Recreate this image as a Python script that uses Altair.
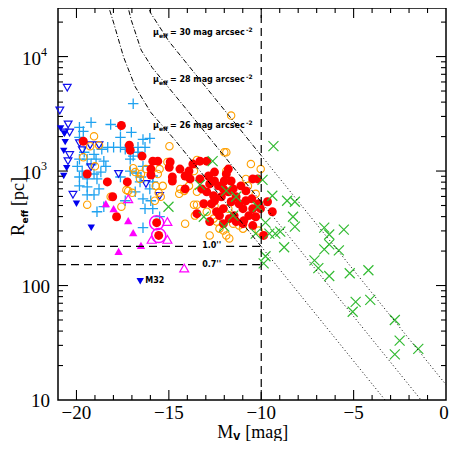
import altair as alt
import pandas as pd

# ---------------- data (M_V [mag], R_eff [pc]) ----------------
plus_M = [-16.93, -19.21, -19.84, -19.63, -17.62, -17.03, -19.84, -17.62, -16.40, -16.03,
          -18.63, -18.31, -17.99, -17.62, -17.36, -16.67, -16.67, -19.58, -19.05, -19.84,
          -19.42, -18.94, -18.52, -17.09, -16.93, -19.95, -19.21, -18.41, -19.69, -18.68,
          -19.05, -17.09, -16.77, -16.51, -19.84, -19.42, -18.89, -17.62, -16.56, -19.84,
          -19.42, -18.78, -16.40, -16.03, -19.42, -19.05, -16.82, -18.52, -18.89, -16.29,
          -15.87, -16.40, -15.50, -15.98, -17.36, -16.29, -15.87, -16.40, -15.87, -18.15]
plus_R = [3880, 2660, 2410, 2220, 2460, 2180, 1970, 1970, 1890, 1930,
          1550, 1610, 1610, 1610, 1550, 1610, 1460, 1460, 1400, 1270,
          1270, 1270, 1220, 1270, 1350, 1100, 1130, 1100, 1000, 980,
          942, 1000, 961, 887, 887, 853, 853, 887, 803, 742,
          727, 698, 1100, 698, 620, 620, 658, 488, 441, 469,
          803, 320, 399, 550, 550, 1610, 905, 572, 469, 2550]

blue_open_M = [-20.50, -20.90, -20.45, -20.66, -20.37, -19.84, -19.26, -18.78, -19.68, -20.37,
               -20.46, -19.22, -17.72, -16.24, -15.50, -20.19]
blue_open_R = [5350, 3380, 2550, 2170, 2170, 1750, 1680, 1680, 1520, 1380,
               1220, 1080, 942, 772, 607, 620]

blue_fill_M = [-20.86, -20.64, -20.61, -20.69, -20.53, -20.69, -20.00, -19.20, -16.55]
blue_fill_R = [2360, 2130, 1790, 1500, 1060, 905, 518, 320, 109]

orange_M = [-19.05, -19.26, -18.78, -19.63, -19.00, -16.93, -16.82, -16.51, -16.24, -16.56,
            -17.20, -16.98, -15.71, -15.55, -15.33, -15.44, -15.76, -18.15, -19.42, -17.57,
            -14.12, -13.64, -13.48, -12.26, -11.63, -14.97, -13.48, -11.89, -13.64, -15.50,
            -15.60, -14.12, -14.38, -14.17, -14.44, -13.48, -12.53, -12.95, -12.42, -10.30,
            -10.72, -11.89, -10.56, -10.03, -13.91, -12.79, -12.05, -11.89, -10.99, -10.14,
            -15.08, -12.00, -10.83, -17.30, -13.59, -12.58, -11.20, -11.73, -11.78, -11.52]
orange_R = [2010, 1650, 1680, 1320, 1100, 1060, 980, 942, 1040, 853,
            671, 645, 742, 645, 742, 596, 550, 596, 508, 488,
            347, 508, 508, 314, 3050, 1650, 1250, 1460, 1000, 1040,
            942, 905, 698, 671, 632, 658, 498, 441, 362, 632,
            742, 1000, 1150, 1040, 742, 274, 302, 274, 314, 302,
            1200, 1460, 853, 684, 408, 384, 334, 258, 469, 347]

red_M = [-17.57, -19.63, -17.14, -17.09, -16.45, -15.87, -15.60, -15.97, -15.97, -19.42,
         -18.33, -17.25, -18.04, -17.83, -15.66, -15.55,
         -14.93, -14.98, -14.40, -13.91, -14.81, -14.81, -13.85, -13.32, -12.85, -12.79,
         -12.53, -12.31, -11.89, -12.00, -11.63, -12.05, -11.78, -11.52, -11.10, -10.83,
         -10.46, -10.19, -12.95, -12.58, -12.53, -12.16, -11.63, -11.36, -11.20, -10.83,
         -10.99, -10.46, -10.67, -10.30, -10.04, -12.05, -12.26, -11.73, -11.36, -10.99,
         -13.22, -14.12, -13.11, -12.69, -13.48, -12.42, -11.47, -10.94, -9.87, -9.40,
         -9.66, -13.32, -12.53, -11.78, -12.95, -14.12, -12.79, -12.05, -10.51, -10.14,
         -10.46, -13.70]
red_R = [2500, 1820, 1680, 1520, 1350, 1220, 1220, 1040, 923, 942,
         803, 803, 596, 399, 354, 274,
         1200, 1080, 1040, 1000, 887, 819, 853, 853, 905, 772,
         819, 742, 942, 819, 819, 698, 658, 698, 742, 671,
         853, 853, 658, 608, 550, 596, 539, 596, 518, 550,
         469, 469, 408, 399, 469, 469, 408, 384, 362, 347,
         698, 698, 518, 518, 424, 441, 408, 369, 274, 441,
         539, 1220, 980, 1040, 1220, 905, 362, 347, 572, 518,
         334, 1150]

green_M = [-12.63, -13.32, -15.02, -13.11, -11.89, -11.36, -11.52, -12.00, -10.19, -9.93,
           -9.34, -10.30, -9.40, -8.60, -8.18, -8.28, -8.18, -9.77, -9.56, -9.24,
           -8.97, -8.76, -9.77, -9.87, -6.59, -6.32, -5.53, -6.32, -6.59, -5.80,
           -7.12, -6.91, -6.32, -5.21, -4.20, -4.89, -5.05, -4.10, -2.77, -2.51,
           -2.77, -1.50]
green_R = [1220, 757, 488, 399, 671, 596, 408, 327, 488, 836,
           1650, 284, 608, 550, 539, 399, 327, 354, 284, 284,
           296, 216, 180, 156, 320, 279, 308, 229, 207, 203,
           166, 142, 121, 128, 136, 72, 59, 75, 50, 33,
           25, 28]

mag_fill_M = [-18.41, -17.99, -17.20, -16.93, -16.51, -17.72]
mag_fill_R = [518, 469, 369, 290, 224, 199]
mag_open_M = [-17.20, -15.08, -15.08, -15.93, -14.17]
mag_open_R = [572, 362, 253, 253, 142]
ring_M = [-15.66, -15.55]
ring_R = [354, 274]

# surface-brightness curves
dd_curve = ["26"] * 7 + ["28"] * 6 + ["30"] * 4
dd_M = [-18.36, -17.98, -17.45, -16.82, -15.97, -14.70, -10.0,
        -17.30, -17.03, -16.50, -15.90, -14.00, -10.0,
        -16.24, -15.97, -15.00, -10.0]
dd_R = [30800, 19500, 9900, 5440, 3240, 1890, 219,
        30800, 20700, 11400, 8000, 3390, 537,
        30800, 23800, 13600, 1365]
dot_curve = ["26", "26", "28", "28", "30", "30"]
dot_M = [-10.0, -3.30, -10.0, -1.35, -10.0, 0.0]
dot_R = [219, 10, 537, 10, 1365, 13.6]

lab_M = [-15.86, -15.86, -15.86]
lab_R = [15920, 6270, 2470]
lab_txt = ["= 30 mag arcsec", "= 28 mag arcsec", "= 26 mag arcsec"]

seeing_seg = ["a", "a", "b", "b", "c", "c", "d", "d"]
seeing_M = [-21, -13.45, -11.9, -10, -21, -13.45, -11.9, -10]
seeing_R = [220, 220, 220, 220, 152, 152, 152, 152]
seeing_lab_M = [-12.68, -12.68]
seeing_lab_R = [220, 152]
seeing_lab = ["1.0''", "0.7''"]

xt_major = [-20, -15, -10, -5]
xt_minor = [-19, -18, -17, -16, -14, -13, -12, -11, -9, -8, -7, -6, -4, -3, -2, -1]
yt_major = [100, 1000, 10000]
yt_minor = [20, 30, 40, 50, 60, 70, 80, 90, 200, 300, 400, 500, 600, 700, 800, 900,
            2000, 3000, 4000, 5000, 6000, 7000, 8000, 9000, 20000]
xlab_vals = [-20, -15, -10, -5]
xlab_txt = ["\u221220", "\u221215", "\u221210", "\u22125"]

# ---------------- chart ----------------
W, H = 388, 392
xs = alt.Scale(domain=[-21, 0], nice=False, zero=False)
ys = alt.Scale(type="log", domain=[10, 26560], nice=False)
X = alt.X("M:Q", scale=xs, axis=None)
Y = alt.Y("R:Q", scale=ys, axis=None)
SERIF = "Liberation Serif"
SANS = "DejaVu Sans"


def df(M, R, **extra):
    d = pd.DataFrame({"M": M, "R": R})
    for k, v in extra.items():
        d[k] = v
    return d


PLUS = "M-1,0L1,0M0,-1L0,1"
CROSS = "M-1,-1L1,1M-1,1L1,-1"

layers = []
layers.append(alt.Chart(df(plus_M, plus_R)).mark_point(
    shape=PLUS, filled=False, size=110, strokeWidth=1.3, color="#1fa2f0", opacity=1).encode(x=X, y=Y))
layers.append(alt.Chart(df(blue_open_M, blue_open_R)).mark_point(
    shape="triangle-down", filled=False, size=60, strokeWidth=1.2, color="#1010ee", opacity=1).encode(x=X, y=Y))
layers.append(alt.Chart(df(blue_fill_M, blue_fill_R)).mark_point(
    shape="triangle-down", filled=True, size=55, color="#0000ee", opacity=1).encode(x=X, y=Y))
layers.append(alt.Chart(df(orange_M, orange_R)).mark_point(
    shape="circle", filled=False, size=55, strokeWidth=1.1, color="#ffa000", opacity=1).encode(x=X, y=Y))
layers.append(alt.Chart(df(red_M, red_R)).mark_point(
    shape="circle", filled=True, size=80, color="#ff0000", opacity=1).encode(x=X, y=Y))
layers.append(alt.Chart(df(ring_M, ring_R)).mark_point(
    shape="circle", filled=False, size=200, strokeWidth=1.4, color="#ff00ff", opacity=1).encode(x=X, y=Y))
layers.append(alt.Chart(df(mag_fill_M, mag_fill_R)).mark_point(
    shape="triangle-up", filled=True, size=70, color="#ff00ff", opacity=1).encode(x=X, y=Y))
layers.append(alt.Chart(df(mag_open_M, mag_open_R)).mark_point(
    shape="triangle-up", filled=False, size=80, strokeWidth=1.2, color="#ff00ff", opacity=1).encode(x=X, y=Y))
layers.append(alt.Chart(df(green_M, green_R)).mark_point(
    shape=CROSS, filled=False, size=100, strokeWidth=1.2, color="#33bb33", opacity=1).encode(x=X, y=Y))

# curves
layers.append(alt.Chart(df(dd_M, dd_R, c=dd_curve)).mark_line(
    clip=True, color="black", strokeWidth=1, strokeDash=[5, 2, 1, 2]).encode(x=X, y=Y, detail="c:N"))
layers.append(alt.Chart(df(dot_M, dot_R, c=dot_curve)).mark_line(
    clip=True, color="black", strokeWidth=1, strokeDash=[1, 2.5]).encode(x=X, y=Y, detail="c:N"))
# seeing lines + vertical line
layers.append(alt.Chart(df(seeing_M, seeing_R, s=seeing_seg)).mark_line(
    color="black", strokeWidth=1.2, strokeDash=[8, 5]).encode(x=X, y=Y, detail="s:N"))
layers.append(alt.Chart(pd.DataFrame({"M": [-10]})).mark_rule(
    color="black", strokeWidth=1.2, strokeDash=[8, 5]).encode(x=X, y=alt.value(H), y2=alt.value(0)))
layers.append(alt.Chart(df(seeing_lab_M, seeing_lab_R, t=seeing_lab)).mark_text(
    font=SANS, fontWeight="bold", fontSize=8, align="center", baseline="middle").encode(x=X, y=Y, text="t:N"))
layers.append(alt.Chart(df([-16.28], [109], t=["M32"])).mark_text(
    font=SANS, fontWeight="bold", fontSize=8, align="left", baseline="middle").encode(x=X, y=Y, text="t:N"))

# curve labels
lab = df(lab_M, lab_R, t=lab_txt)
layers.append(alt.Chart(lab).mark_text(font=SANS, fontWeight="bold", fontSize=8, align="left",
                                       baseline="middle", dx=0).encode(x=X, y=Y, text=alt.value("\u03bc")))
layers.append(alt.Chart(lab).mark_text(font=SANS, fontWeight="bold", fontSize=6, align="left",
                                       baseline="middle", dx=6, dy=3).encode(x=X, y=Y, text=alt.value("eff")))
layers.append(alt.Chart(lab).mark_text(font=SANS, fontWeight="bold", fontSize=8, align="left",
                                       baseline="middle", dx=17).encode(x=X, y=Y, text="t:N"))
layers.append(alt.Chart(lab).mark_text(font=SANS, fontWeight="bold", fontSize=6, align="left",
                                       baseline="middle", dx=93, dy=-3).encode(x=X, y=Y, text=alt.value("-2")))

# ticks (inside, mirrored)
TK = dict(color="black", strokeWidth=1.1)
dxM = pd.DataFrame({"M": xt_major})
dxm = pd.DataFrame({"M": xt_minor})
dyM = pd.DataFrame({"R": yt_major})
dym = pd.DataFrame({"R": yt_minor})
for d, L in ((dxM, 10), (dxm, 5)):
    layers.append(alt.Chart(d).mark_rule(**TK).encode(x=X, y=alt.value(H), y2=alt.value(H - L)))
    layers.append(alt.Chart(d).mark_rule(**TK).encode(x=X, y=alt.value(0), y2=alt.value(L)))
for d, L in ((dyM, 10), (dym, 5)):
    layers.append(alt.Chart(d).mark_rule(**TK).encode(y=Y, x=alt.value(0), x2=alt.value(L)))
    layers.append(alt.Chart(d).mark_rule(**TK).encode(y=Y, x=alt.value(W), x2=alt.value(W - L)))

# tick labels
layers.append(alt.Chart(df(xlab_vals, [10] * 4, t=xlab_txt)).mark_text(
    font=SERIF, fontSize=19, align="center", baseline="alphabetic", dy=19).encode(x=X, y=Y, text="t:N"))
layers.append(alt.Chart(df([0], [10], t=["0"])).mark_text(
    font=SERIF, fontSize=19, align="center", baseline="alphabetic", dx=-2, dy=19).encode(x=X, y=Y, text="t:N"))
layers.append(alt.Chart(df([-21, -21], [10, 100], t=["10", "100"])).mark_text(
    font=SERIF, fontSize=19, align="right", baseline="middle", dx=-8, dy=1).encode(x=X, y=Y, text="t:N"))
layers.append(alt.Chart(df([-21, -21], [1000, 10000], t=["10", "10"])).mark_text(
    font=SERIF, fontSize=19, align="right", baseline="middle", dx=-17, dy=2).encode(x=X, y=Y, text="t:N"))
layers.append(alt.Chart(df([-21, -21], [1000, 10000], t=["3", "4"])).mark_text(
    font=SERIF, fontSize=12, align="left", baseline="middle", dx=-17, dy=-5).encode(x=X, y=Y, text="t:N"))

# axis titles
xt = df([-12.38], [10])
layers.append(alt.Chart(xt).mark_text(font=SERIF, fontSize=18, align="left", baseline="alphabetic",
                                      dy=38).encode(x=X, y=Y, text=alt.value("M")))
layers.append(alt.Chart(xt).mark_text(font=SANS, fontWeight="bold", fontSize=9, align="left",
                                      baseline="alphabetic", dx=16, dy=40).encode(x=X, y=Y, text=alt.value("V")))
layers.append(alt.Chart(xt).mark_text(font=SERIF, fontSize=18, align="left", baseline="alphabetic",
                                      dx=28, dy=38).encode(x=X, y=Y, text=alt.value("[mag]")))
yt = df([-21], [271])
layers.append(alt.Chart(yt).mark_text(font=SERIF, fontSize=18, angle=270, align="left",
                                      baseline="alphabetic", dy=-34).encode(x=X, y=Y, text=alt.value("R")))
layers.append(alt.Chart(yt).mark_text(font=SANS, fontWeight="bold", fontSize=9, angle=270, align="left",
                                      baseline="alphabetic", dx=12.5, dy=-30).encode(x=X, y=Y, text=alt.value("eff")))
layers.append(alt.Chart(yt).mark_text(font=SERIF, fontSize=18, angle=270, align="left",
                                      baseline="alphabetic", dx=30, dy=-34).encode(x=X, y=Y, text=alt.value("[pc]")))

chart = alt.layer(*layers).properties(
    width=W, height=H,
    padding={"left": 50, "top": 0, "right": 3, "bottom": 41},
    autosize=alt.AutoSizeParams(type="none"),
    background="white",
).configure_view(stroke="black", strokeWidth=1.5)

chart.save("out.html", embed_options={"renderer": "svg", "actions": False})
